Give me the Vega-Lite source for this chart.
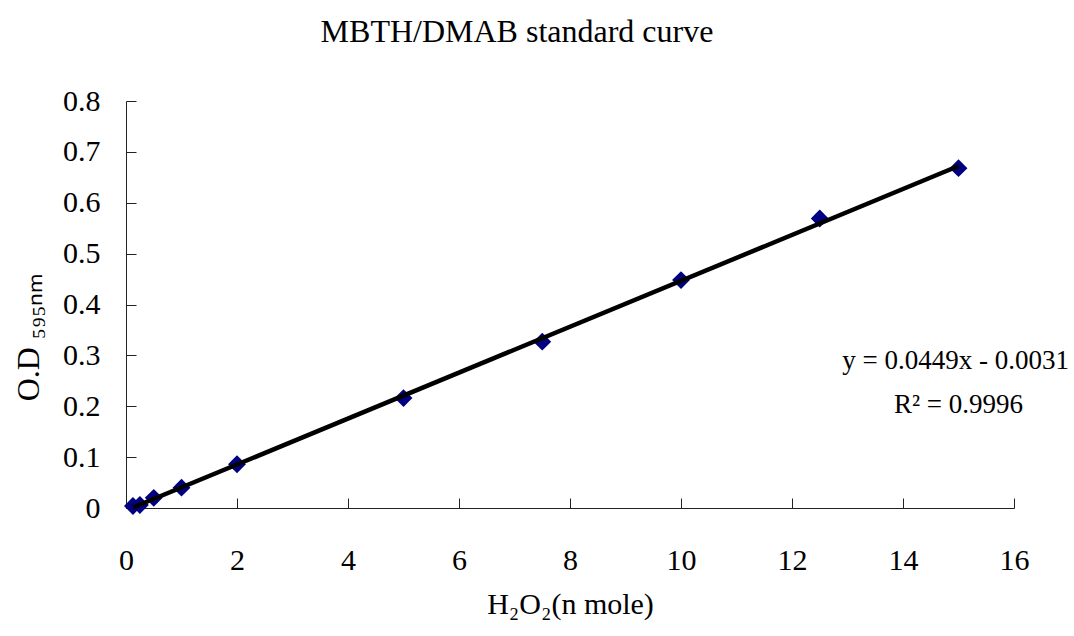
{
  "$schema": "https://vega.github.io/schema/vega-lite/v6.json",
  "width": 888,
  "height": 407,
  "autosize": {"type": "none"},
  "padding": {"left": 126, "top": 101, "right": 60, "bottom": 128},
  "background": "white",
  "title": {
    "text": "MBTH/DMAB standard curve",
    "font": "Liberation Serif",
    "fontSize": 32,
    "fontWeight": "normal",
    "color": "#000",
    "anchor": "middle",
    "dx": -53,
    "offset": 37
  },
  "config": {
    "view": {"stroke": null},
    "axis": {
      "grid": false,
      "domainColor": "#222",
      "tickColor": "#222",
      "domainWidth": 1,
      "tickWidth": 1,
      "tickSize": -10,
      "labelFlush": false,
      "labelFont": "Liberation Serif",
      "labelFontSize": 30,
      "labelColor": "#000",
      "titleFont": "Liberation Serif",
      "titleFontSize": 30,
      "titleFontWeight": "normal",
      "titleColor": "#000"
    }
  },
  "datasets": {
    "pts": [
      {"x": 0.125, "y": 0.004},
      {"x": 0.25, "y": 0.006},
      {"x": 0.5, "y": 0.02},
      {"x": 1, "y": 0.04},
      {"x": 2, "y": 0.086},
      {"x": 5, "y": 0.216},
      {"x": 7.5, "y": 0.327},
      {"x": 10, "y": 0.448},
      {"x": 12.5, "y": 0.569},
      {"x": 15, "y": 0.668}
    ],
    "notes": [
      {"x": 14.95, "y": 0.288, "label": "y = 0.0449x - 0.0031"},
      {"x": 15.0, "y": 0.202, "label": "R² = 0.9996"}
    ]
  },
  "layer": [
    {
      "data": {"name": "pts"},
      "mark": {"type": "point", "shape": "diamond", "filled": true, "size": 320, "color": "#000080", "opacity": 1},
      "encoding": {
        "x": {
          "field": "x", "type": "quantitative",
          "scale": {"domain": [0, 16], "nice": false, "zero": false},
          "axis": {"values": [0, 2, 4, 6, 8, 10, 12, 14, 16], "format": "d", "labelPadding": 47, "title": "H₂O₂(n mole)", "titlePadding": 14}
        },
        "y": {
          "field": "y", "type": "quantitative",
          "scale": {"domain": [0, 0.8], "nice": false},
          "axis": {
            "values": [0, 0.1, 0.2, 0.3, 0.4, 0.5, 0.6, 0.7, 0.8],
            "labelExpr": "datum.value == 0 ? '0' : format(datum.value, '.1f')",
            "labelPadding": 36,
            "title": "O.D ₅₉₅ₙₘ",
            "titleFontSize": 32,
            "titleX": -98,
            "titleY": 236,
            "titleAngle": -90,
            "titleBaseline": "middle",
            "titleAlign": "center"
          }
        }
      }
    },
    {
      "data": {"name": "pts"},
      "transform": [{"regression": "y", "on": "x", "extent": [0.125, 15]}],
      "mark": {"type": "line", "color": "#000", "strokeWidth": 4.5},
      "encoding": {
        "x": {"field": "x", "type": "quantitative"},
        "y": {"field": "y", "type": "quantitative"}
      }
    },
    {
      "data": {"name": "notes"},
      "mark": {"type": "text", "font": "Liberation Serif", "fontSize": 27, "color": "#000", "align": "center", "baseline": "middle"},
      "encoding": {
        "x": {"field": "x", "type": "quantitative"},
        "y": {"field": "y", "type": "quantitative"},
        "text": {"field": "label"}
      }
    }
  ]
}
